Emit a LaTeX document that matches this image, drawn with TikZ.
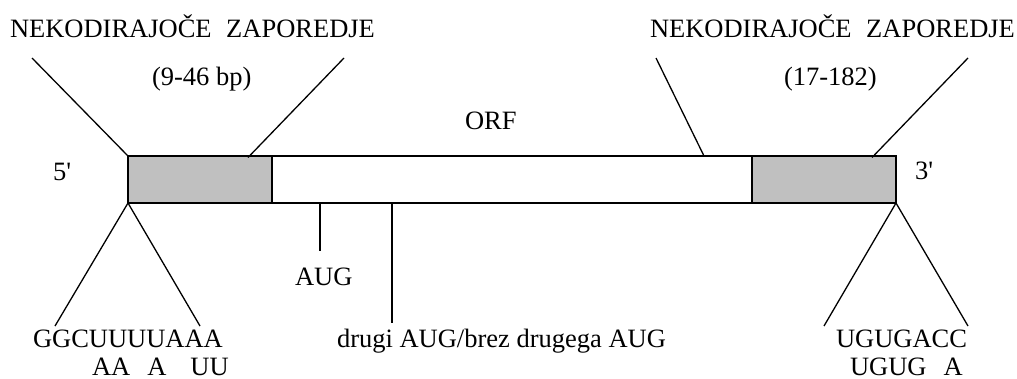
\documentclass[tikz,border=0pt]{standalone}
\usepackage{fontspec}
\setmainfont{Liberation Serif}[Ligatures=TeXOff]
\begin{document}
\begin{tikzpicture}[x=1pt,y=-1pt,
  lbl/.style={inner sep=0pt, outer sep=0pt, anchor=base west,
              font=\fontsize{26.5}{30}\selectfont},
  seg/.style={draw, line width=1.5pt, inner sep=0pt, outer sep=0pt,
              minimum height=47pt},
  utr/.style={seg, fill=utrgray, minimum width=144pt},
  link/.style={line width=1.3pt}]
\definecolor{utrgray}{HTML}{C0C0C0}
\useasboundingbox (0,0) rectangle (1017,378);

% mRNA: 5' UTR, open reading frame, 3' UTR
\node[seg, minimum width=480pt] (orf) at (512,179.5) {};
\node[utr] (utr5) at (200,179.5) {};
\node[utr] (utr3) at (824,179.5) {};

% labels above
\node[lbl] (nc5) at (10,37) {NEKODIRAJOČE\hspace{0.55em}ZAPOREDJE};
\node[lbl] (len5) at (152,85) {(9-46 bp)};
\node[lbl] (nc3) at (650,37) {NEKODIRAJOČE\hspace{0.55em}ZAPOREDJE};
\node[lbl] (len3) at (784,85) {(17-182)};
\node[lbl] (orflbl) at (465,129) {ORF};
\node[lbl] (p5) at (53,180) {5'};
\node[lbl] (p3) at (915,179) {3'};

% labels below
\node[lbl] (aug) at (295,285) {AUG};
\node[lbl] (aug2) at (337,347) {drugi AUG/brez drugega AUG};
\node[lbl] (seq5a) at (33,347) {GGCUUUUAAA};
\node[lbl] (seq5b) at (92,375) {AA\hspace{17pt}A\hspace{24pt}UU};
\node[lbl] (seq3a) at (836,347) {UGUGACC};
\node[lbl] (seq3b) at (850,375) {UGUG\hspace{17pt}A};

% free ends of the leader lines
\coordinate (a1) at (32,58);
\coordinate (a2) at (344,58);
\coordinate (a2e) at (248,157.5);
\coordinate (a3) at (656,58);
\coordinate (a3e) at (704,156);
\coordinate (a4) at (968,58);
\coordinate (a4e) at (872,157.5);
\coordinate (b1) at (55,326);
\coordinate (b2) at (200,326);
\coordinate (b3) at (824,326);
\coordinate (b4) at (968,326);
\coordinate (t1) at (320,251);
\coordinate (t2) at (392,323);

% leader lines above
\draw[link] (a1) -- (utr5.north west);
\draw[link] (a2) -- (a2e);
\draw[link] (a3) -- (a3e);
\draw[link] (a4) -- (a4e);

% leader lines below
\draw[link] (utr5.south west) -- (b1);
\draw[link] (utr5.south west) -- (b2);
\draw[link] (utr3.south east) -- (b3);
\draw[link] (utr3.south east) -- (b4);
\draw[link] (orf.south west -| t1) -- (t1);
\draw[link] (orf.south west -| t2) -- (t2);
\end{tikzpicture}
\end{document}
